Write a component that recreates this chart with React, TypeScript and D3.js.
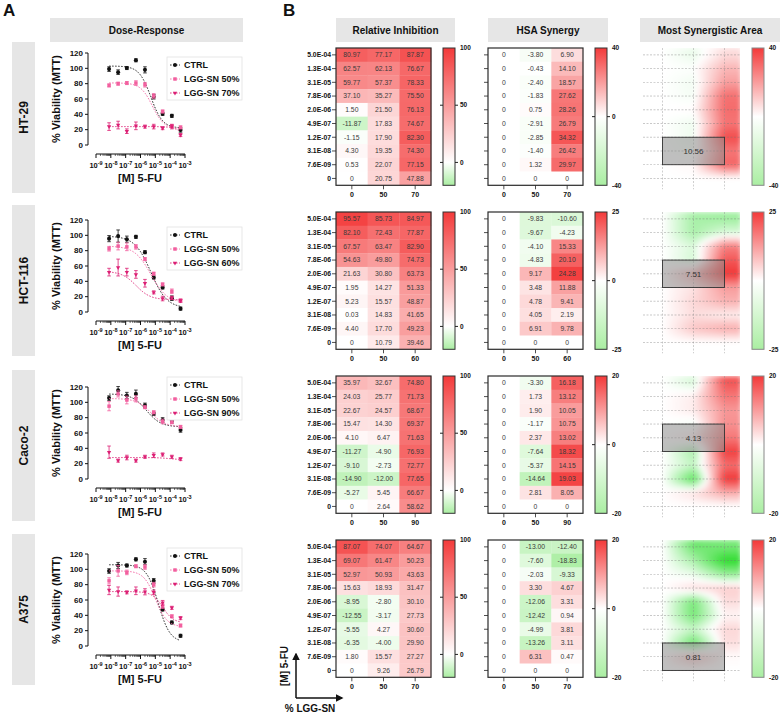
import React from "react";
import * as d3 from "d3";

const FONT = "'Liberation Sans', Arial, Helvetica, sans-serif";

// ---------------- DATA ----------------
const CELL_LINES = ["HT-29", "HCT-116", "Caco-2", "A375"];
const FU_LABELS = ["5.0E-04", "1.3E-04", "3.1E-05", "7.8E-06", "2.0E-06", "4.9E-07", "1.2E-07", "3.1E-08", "7.6E-09", "0"];
const FU_CONC = [7.6e-9, 3.1e-8, 1.2e-7, 4.9e-7, 2.0e-6, 7.8e-6, 3.1e-5, 1.3e-4, 5.0e-4];
const LGG_DOSES = [["0", "50", "70"], ["0", "50", "60"], ["0", "50", "90"], ["0", "50", "70"]];
const SERIES_LABELS = [
  ["CTRL", "LGG-SN 50%", "LGG-SN 70%"],
  ["CTRL", "LGG-SN 50%", "LGG-SN 60%"],
  ["CTRL", "LGG-SN 50%", "LGG-SN 90%"],
  ["CTRL", "LGG-SN 50%", "LGG-SN 70%"],
];
const X_TICK_EXP = [-9, -8, -7, -6, -5, -4, -3];
const Y_TICKS = [0, 20, 40, 60, 80, 100, 120];

// dose-response means
const DR_HT29 = [
  [99, 95, 100.4, 110.5, 98, 63, 40.6, 38, 19.7],
  [77.7, 80, 80.8, 80.8, 78.6, 64, 43.7, 24.5, 23],
  [24, 26, 18, 25, 24, 24, 22, 24, 13],
];
const DR_HCT116 = [
  [95.7, 99, 95, 98, 78, 45, 32, 18, 4.4],
  [82.5, 86, 85, 85, 69, 50, 36, 27, 15],
  [52, 58, 52, 49, 37.5, 25.6, 17.6, 18.5, 14.6],
];
const DR_CACO2 = [
  [105.5, 115.6, 109, 111, 96, 85, 77, 76, 64],
  [95, 111, 103, 104.6, 93.6, 87, 75, 74, 68],
  [35, 24, 28, 24, 29, 31, 32, 29, 26],
];
const DR_A375 = [
  [97.8, 105, 105, 113, 110, 85, 47.6, 30.7, 13.3],
  [85, 98, 96, 104, 103, 80, 52, 38.7, 26.7],
  [73, 71, 70, 72, 70.7, 70, 56.4, 49.8, 36.4],
];
// error bars (SEM)
const ERR_HT29 = [[3, 3, 2, 2, 4, 3, 2, 2, 3], [2, 2, 2, 3, 3, 3, 2, 2, 2], [5, 5, 3, 5, 2, 3, 2, 3, 2]];
const ERR_HCT116 = [[4, 8, 4, 2, 2, 2, 2, 3, 2], [3, 5, 5, 3, 2, 2, 2, 3, 2], [5, 11, 5, 5, 5, 2, 3, 2, 2]];
const ERR_CACO2 = [[3, 5, 4, 5, 3, 2, 3, 3, 3], [6, 4, 5, 4, 2, 2, 3, 2, 2], [8, 2, 3, 2, 2, 3, 2, 2, 2]];
const ERR_A375 = [[3, 4, 2, 2, 4, 3, 2, 2, 2], [4, 7, 3, 2, 3, 3, 3, 2, 2], [6, 6, 2, 5, 4, 3, 3, 2, 2]];
// 4PL fits: [top, bottom, logIC50, hill]
const FIT_HT29 = [[103, 22, -5.3, 1.1], [81, 21, -5.2, 1.1], [24, 14, -3.4, 1.5]];
const FIT_HCT116 = [[99, 5, -5.3, 0.8], [86, 12, -5.3, 0.8], [53, 16, -6.3, 0.9]];
const FIT_CACO2 = [[111, 68, -5.6, 0.9], [105, 68, -5.3, 0.9], [28, 25, -4, 1]];
const FIT_A375 = [[106, 5, -4.8, 1.1], [98, 25, -5.0, 1.1], [71, 30, -4.5, 1.2]];

const DR_DATA = [DR_HT29, DR_HCT116, DR_CACO2, DR_A375];
const DR_ERR = [ERR_HT29, ERR_HCT116, ERR_CACO2, ERR_A375];
const DR_FIT = [FIT_HT29, FIT_HCT116, FIT_CACO2, FIT_A375];

// relative inhibition (rows: 5.0E-04 ... 0 ; cols: LGG doses)
const RI_HT29 = [[80.97, 77.17, 87.87], [62.57, 62.13, 76.67], [59.77, 57.37, 78.33], [37.10, 35.27, 75.50], [1.50, 21.50, 76.13], [-11.87, 17.83, 74.67], [-1.15, 17.90, 82.30], [4.30, 19.35, 74.30], [0.53, 22.07, 77.15], [0, 20.75, 47.88]];
const RI_HCT116 = [[95.57, 85.73, 84.97], [82.10, 72.43, 77.87], [67.57, 63.47, 82.90], [54.63, 49.80, 74.73], [21.63, 30.80, 63.73], [1.95, 14.27, 51.33], [5.23, 15.57, 48.87], [0.03, 14.83, 41.65], [4.40, 17.70, 49.23], [0, 10.79, 39.46]];
const RI_CACO2 = [[35.97, 32.67, 74.80], [24.03, 25.77, 71.73], [22.67, 24.57, 68.67], [15.47, 14.30, 69.37], [4.10, 6.47, 71.63], [-11.27, -4.90, 76.93], [-9.10, -2.73, 72.77], [-14.90, -12.00, 77.65], [-5.27, 5.45, 66.67], [0, 2.64, 58.62]];
const RI_A375 = [[87.07, 74.07, 64.67], [69.07, 61.47, 50.23], [52.97, 50.93, 43.63], [15.63, 18.93, 31.47], [-8.95, -2.80, 30.10], [-12.55, -3.17, 27.73], [-5.55, 4.27, 30.60], [-6.35, -4.00, 29.90], [1.80, 15.57, 27.27], [0, 9.26, 26.79]];
// HSA synergy
const HSA_HT29 = [[0, -3.80, 6.90], [0, -0.43, 14.10], [0, -2.40, 18.57], [0, -1.83, 27.62], [0, 0.75, 28.26], [0, -2.91, 26.79], [0, -2.85, 34.32], [0, -1.40, 26.42], [0, 1.32, 29.97], [0, 0, 0]];
const HSA_HCT116 = [[0, -9.83, -10.60], [0, -9.67, -4.23], [0, -4.10, 15.33], [0, -4.83, 20.10], [0, 9.17, 24.28], [0, 3.48, 11.88], [0, 4.78, 9.41], [0, 4.05, 2.19], [0, 6.91, 9.78], [0, 0, 0]];
const HSA_CACO2 = [[0, -3.30, 16.18], [0, 1.73, 13.12], [0, 1.90, 10.05], [0, -1.17, 10.75], [0, 2.37, 13.02], [0, -7.64, 18.32], [0, -5.37, 14.15], [0, -14.64, 19.03], [0, 2.81, 8.05], [0, 0, 0]];
const HSA_A375 = [[0, -13.00, -12.40], [0, -7.60, -18.83], [0, -2.03, -9.33], [0, 3.30, 4.67], [0, -12.06, 3.31], [0, -12.42, 0.94], [0, -4.99, 3.81], [0, -13.26, 3.11], [0, 6.31, 0.47], [0, 0, 0]];
const RI_DATA = [RI_HT29, RI_HCT116, RI_CACO2, RI_A375];
const HSA_DATA = [HSA_HT29, HSA_HCT116, HSA_CACO2, HSA_A375];
const HSA_RANGE = [40, 25, 20, 20];
const RI_TICKS = [100, 50, 0];
const MSA_VALUES = [10.56, 7.51, 4.13, 0.81];
const MSA_ROW_START = [6, 3, 3, 7];

// ---------------- LAYOUT ----------------
const W = 784, H = 715;
const LABEL_BOX_TOP = [42, 205, 370, 534];
const LABEL_BOX_H = 151;
const DR_ZERO_Y = [145, 312, 479, 646];
const DR_LEGEND_OFF = [-88, -85, -102, -98];
const HEAT_TOP = [48, 212, 376, 540];
const HEAT_H = 137.3;
const RI_X = 336, HSA_X = 488, HEAT_W = 95;
const RI_CB_X = 443, HSA_CB_X = 595, MSA_CB_X = 752;
const MSA_X = 647, MSA_W = 93;
const SERIES_COLORS = ["#111111", "#f2609f", "#dc1f74"];
const SYMBOLS = [d3.symbolCircle, d3.symbolSquare, d3.symbolTriangle];
const SYMBOL_SIZES = [13, 12, 8];

const GREEN = "#aaeea2", WHITE = "#ffffff", RED = "#f33a3a";

const fourPL = (x: number, p: number[]) => p[1] + (p[0] - p[1]) / (1 + Math.pow(10, (x - p[2]) * p[3]));
const fmt = (v: number) => (v === 0 ? "0" : v.toFixed(2));

function Header({ x, w, label }: { x: number; w: number; label: string }) {
  return (
    <g>
      <rect x={x} y={18} width={w} height={24} fill="#e6e6e6" />
      <text x={x + w / 2} y={34} textAnchor="middle" fontSize={10} fontWeight="bold" fill="#111">{label}</text>
    </g>
  );
}

function DosePanel({ i }: { i: number }) {
  const zeroY = DR_ZERO_Y[i];
  const y = d3.scaleLinear().domain([0, 120]).range([zeroY, zeroY - 92]);
  const x = d3.scaleLinear().domain([-9, -3]).range([96, 185]);
  const axisY = zeroY + 9;
  const minor: number[] = [];
  for (let d = -9; d < -3; d++) for (let k = 2; k <= 9; k++) minor.push(d + Math.log10(k));
  const xs = d3.range(Math.log10(FU_CONC[0]), Math.log10(FU_CONC[8]) + 0.01, 0.04);
  const legTop = zeroY + DR_LEGEND_OFF[i];
  return (
    <g>
      <rect x={12} y={LABEL_BOX_TOP[i]} width={23} height={LABEL_BOX_H} fill="#e6e6e6" />
      <text transform={`translate(28,${LABEL_BOX_TOP[i] + LABEL_BOX_H / 2}) rotate(-90)`} textAnchor="middle" fontSize={12} fontWeight="bold" fill="#111">{CELL_LINES[i]}</text>
      {/* y axis */}
      <line x1={88} x2={88} y1={y(0)} y2={y(120)} stroke="#111" strokeWidth={1} />
      {Y_TICKS.map((t) => (
        <g key={t}>
          <line x1={85} x2={88} y1={y(t)} y2={y(t)} stroke="#111" />
          <text x={83} y={y(t)} dy="0.35em" textAnchor="end" fontSize={8} fontWeight="bold" fill="#111">{t}</text>
        </g>
      ))}
      <text transform={`translate(60,${zeroY - 46}) rotate(-90)`} textAnchor="middle" fontSize={11} fontWeight="bold" fill="#111">% Viability (MTT)</text>
      {/* x axis */}
      <line x1={x(-9)} x2={x(-3)} y1={axisY} y2={axisY} stroke="#111" />
      {X_TICK_EXP.map((e) => (
        <g key={e}>
          <line x1={x(e)} x2={x(e)} y1={axisY} y2={axisY + 4} stroke="#111" />
          <text x={x(e)} y={axisY + 14} textAnchor="middle" fontSize={7.5} fontWeight="bold" fill="#111">
            10<tspan dy={-3.5} fontSize={5.5}>{String(e)}</tspan>
          </text>
        </g>
      ))}
      {minor.map((m, k) => (
        <line key={k} x1={x(m)} x2={x(m)} y1={axisY} y2={axisY + 2} stroke="#111" strokeWidth={0.6} />
      ))}
      <text x={140} y={zeroY + 37} textAnchor="middle" fontSize={11} fontWeight="bold" fill="#111">[M] 5-FU</text>
      {/* curves & points */}
      {DR_DATA[i].map((series, s) => {
        const path = d3.line<number>().x((d) => x(d)).y((d) => y(fourPL(d, DR_FIT[i][s])))(xs) || "";
        const sym = d3.symbol().type(SYMBOLS[s]).size(SYMBOL_SIZES[s])() || "";
        return (
          <g key={s}>
            <path d={path} fill="none" stroke={SERIES_COLORS[s]} strokeWidth={0.9} strokeDasharray="1.6,1.4" />
            {series.map((v, j) => {
              const cx = x(Math.log10(FU_CONC[j]));
              const e = DR_ERR[i][s][j];
              return (
                <g key={j}>
                  <line x1={cx} x2={cx} y1={y(v - e)} y2={y(v + e)} stroke={SERIES_COLORS[s]} strokeWidth={0.8} />
                  <line x1={cx - 1.8} x2={cx + 1.8} y1={y(v - e)} y2={y(v - e)} stroke={SERIES_COLORS[s]} strokeWidth={0.8} />
                  <line x1={cx - 1.8} x2={cx + 1.8} y1={y(v + e)} y2={y(v + e)} stroke={SERIES_COLORS[s]} strokeWidth={0.8} />
                  <path d={sym} transform={`translate(${cx},${y(v)})${s === 2 ? " rotate(180)" : ""}`} fill={SERIES_COLORS[s]} />
                </g>
              );
            })}
          </g>
        );
      })}
      {/* legend */}
      <rect x={167} y={legTop} width={75} height={43} fill="#fff" stroke="#e2e2e2" strokeWidth={0.8} />
      {SERIES_LABELS[i].map((lab, s) => {
        const ly = legTop + 8 + s * 14;
        const sym = d3.symbol().type(SYMBOLS[s]).size(SYMBOL_SIZES[s])() || "";
        return (
          <g key={s}>
            <line x1={170} x2={180} y1={ly} y2={ly} stroke={SERIES_COLORS[s]} strokeWidth={0.8} strokeDasharray="1.6,1.4" />
            <path d={sym} transform={`translate(175,${ly})${s === 2 ? " rotate(180)" : ""}`} fill={SERIES_COLORS[s]} />
            <text x={184} y={ly + 3.2} fontSize={9} fontWeight="bold" fill="#111">{lab}</text>
          </g>
        );
      })}
    </g>
  );
}

function ColorBar({ x, top, min, max, ticks, id, stroke }: { x: number; top: number; min: number; max: number; ticks: number[]; id: string; stroke: string }) {
  const y = d3.scaleLinear().domain([max, min]).range([top, top + HEAT_H]);
  const zeroOff = (max - 0) / (max - min);
  const w = 12;
  return (
    <g>
      <defs>
        <linearGradient id={id} x1="0" y1="0" x2="0" y2="1">
          <stop offset="0" stopColor={RED} />
          <stop offset={zeroOff} stopColor={WHITE} />
          <stop offset="1" stopColor={GREEN} />
        </linearGradient>
      </defs>
      <rect x={x} y={top} width={w} height={HEAT_H} fill={`url(#${id})`} stroke={stroke} strokeWidth={1} />
      {ticks.map((t) => (
        <g key={t}>
          {t !== max && t !== min && (
            <>
              <line x1={x - 3} x2={x} y1={y(t)} y2={y(t)} stroke="#222" />
              <line x1={x + w} x2={x + w + 3} y1={y(t)} y2={y(t)} stroke="#222" />
            </>
          )}
          <text x={x + w + 5} y={y(t)} dy="0.35em" fontSize={6.5} fontWeight="bold" fill="#111">{t}</text>
        </g>
      ))}
    </g>
  );
}

function HeatMap({ i, x, data, color, showLabels }: { i: number; x: number; data: number[][]; color: (v: number) => string; showLabels: boolean }) {
  const top = HEAT_TOP[i];
  const xb = d3.scaleBand().domain(LGG_DOSES[i]).range([x, x + HEAT_W]);
  const yb = d3.scaleBand().domain(FU_LABELS).range([top, top + HEAT_H]);
  return (
    <g>
      {data.map((row, r) =>
        row.map((v, c) => (
          <g key={`${r}-${c}`}>
            <rect x={xb(LGG_DOSES[i][c])} y={yb(FU_LABELS[r])} width={xb.bandwidth() + 0.3} height={yb.bandwidth() + 0.3} fill={color(v)} />
            <text x={(xb(LGG_DOSES[i][c]) as number) + xb.bandwidth() / 2} y={(yb(FU_LABELS[r]) as number) + yb.bandwidth() / 2} dy="0.35em" textAnchor="middle" fontSize={6.8} fill="#3a3a3a">{fmt(v)}</text>
          </g>
        ))
      )}
      <rect x={x} y={top} width={HEAT_W} height={HEAT_H} fill="none" stroke="#2a2a2a" strokeWidth={1.2} />
      {FU_LABELS.map((l) => {
        const yy = (yb(l) as number) + yb.bandwidth() / 2;
        return (
          <g key={l}>
            <line x1={x - 4} x2={x} y1={yy} y2={yy} stroke="#222" strokeWidth={0.8} />
            {showLabels && <text x={x - 5} y={yy} dy="0.35em" textAnchor="end" fontSize={6.8} fontWeight="bold" fill="#111">{l}</text>}
          </g>
        );
      })}
      {LGG_DOSES[i].map((d) => {
        const xx = (xb(d) as number) + xb.bandwidth() / 2;
        return (
          <g key={d}>
            <line x1={xx} x2={xx} y1={top + HEAT_H} y2={top + HEAT_H + 4} stroke="#222" strokeWidth={0.8} />
            <text x={xx} y={top + HEAT_H + 12} textAnchor="middle" fontSize={7} fontWeight="bold" fill="#111">{d}</text>
          </g>
        );
      })}
    </g>
  );
}

function MSA({ i }: { i: number }) {
  const top = HEAT_TOP[i];
  const data = HSA_DATA[i];
  const r = HSA_RANGE[i];
  const color = d3.scaleLinear<string>().domain([-r, 0, r]).range(["#22da22", WHITE, "#f03030"]).clamp(true);
  const nC = 3, nR = 10;
  const colW = MSA_W / nC, rowH = HEAT_H / nR;
  const cx = d3.scaleLinear().domain([0, nC - 1]).range([MSA_X + colW / 2, MSA_X + MSA_W - colW / 2]);
  const cy = d3.scaleLinear().domain([0, nR - 1]).range([top + rowH / 2, top + HEAT_H - rowH / 2]);
  const step = 2;
  const cells: JSX.Element[] = [];
  for (let py = 0; py < HEAT_H; py += step) {
    for (let px = 0; px < MSA_W; px += step) {
      const c = Math.max(0, Math.min(nC - 1, cx.invert(MSA_X + px + step / 2)));
      const rr = Math.max(0, Math.min(nR - 1, cy.invert(top + py + step / 2)));
      const c0 = Math.min(Math.floor(c), nC - 2), r0 = Math.min(Math.floor(rr), nR - 2);
      const fc = c - c0, fr = rr - r0;
      const v =
        data[r0][c0] * (1 - fc) * (1 - fr) + data[r0][c0 + 1] * fc * (1 - fr) +
        data[r0 + 1][c0] * (1 - fc) * fr + data[r0 + 1][c0 + 1] * fc * fr;
      cells.push(<rect key={`${px}-${py}`} x={MSA_X + px} y={top + py} width={step + 0.4} height={step + 0.4} fill={color(v)} />);
    }
  }
  const r0 = MSA_ROW_START[i];
  return (
    <g>
      <defs>
        <clipPath id={`msaclip${i}`}>
          <rect x={MSA_X} y={top} width={MSA_W} height={HEAT_H} />
        </clipPath>
        <filter id={`msablur${i}`} x="-5%" y="-5%" width="110%" height="110%">
          <feGaussianBlur stdDeviation={2.5} edgeMode="duplicate" />
        </filter>
      </defs>
      <g clipPath={`url(#msaclip${i})`}>
        <g shapeRendering="crispEdges" filter={`url(#msablur${i})`}>{cells}</g>
      </g>
      {d3.range(nR).map((k) => (
        <line key={k} x1={MSA_X - 4} x2={MSA_X + MSA_W} y1={cy(k)} y2={cy(k)} stroke="#777" strokeWidth={0.5} strokeDasharray="2,1.5" opacity={0.8} />
      ))}
      {d3.range(nC).map((k) => (
        <line key={k} x1={cx(k)} x2={cx(k)} y1={top} y2={top + HEAT_H + 4} stroke="#888" strokeWidth={0.5} strokeDasharray="2,1.5" opacity={0.8} />
      ))}
      <rect x={cx(0)} y={cy(r0)} width={cx(2) - cx(0)} height={cy(r0 + 2) - cy(r0)} fill="#8a8a8a" fillOpacity={0.55} stroke="#333" strokeWidth={0.9} />
      <text x={cx(1)} y={(cy(r0) + cy(r0 + 2)) / 2} dy="0.35em" textAnchor="middle" fontSize={8} fill="#333">{MSA_VALUES[i].toFixed(2)}</text>
    </g>
  );
}

export default function App() {
  const riColor = d3.scaleLinear<string>().domain([-20, 0, 100]).range([GREEN, WHITE, RED]).clamp(true);
  return (
    <svg width={W} height={H} style={{ position: "absolute", left: 0, top: 0, background: "#fff" }} fontFamily={FONT}>
      <defs>
        <marker id="arrow" viewBox="0 0 10 10" refX={8} refY={5} markerWidth={5} markerHeight={5} orient="auto-start-reverse">
          <path d="M0,0 L10,5 L0,10 z" fill="#111" />
        </marker>
      </defs>
      <text x={3} y={16} fontSize={17} fontWeight="bold" fill="#111">A</text>
      <text x={283} y={16} fontSize={17} fontWeight="bold" fill="#111">B</text>
      <Header x={50} w={193} label="Dose-Response" />
      <Header x={RI_X} w={119} label="Relative Inhibition" />
      <Header x={HSA_X} w={120} label="HSA Synergy" />
      <Header x={640} w={140} label="Most Synergistic Area" />
      {CELL_LINES.map((_, i) => {
        const r = HSA_RANGE[i];
        const hsaColor = d3.scaleLinear<string>().domain([-r, 0, r]).range([GREEN, WHITE, RED]).clamp(true);
        return (
          <g key={i}>
            <DosePanel i={i} />
            <HeatMap i={i} x={RI_X} data={RI_DATA[i]} color={riColor} showLabels={true} />
            <ColorBar x={RI_CB_X} top={HEAT_TOP[i]} min={-20} max={100} ticks={RI_TICKS} id={`cbri${i}`} stroke="#333" />
            <HeatMap i={i} x={HSA_X} data={HSA_DATA[i]} color={hsaColor} showLabels={false} />
            <ColorBar x={HSA_CB_X} top={HEAT_TOP[i]} min={-r} max={r} ticks={[r, 0, -r]} id={`cbhsa${i}`} stroke="#333" />
            <MSA i={i} />
            <ColorBar x={MSA_CB_X} top={HEAT_TOP[i]} min={-r} max={r} ticks={[r, -r]} id={`cbmsa${i}`} stroke="#888" />
          </g>
        );
      })}
      {/* axis indicator */}
      <text transform="translate(288,666) rotate(-90)" textAnchor="middle" fontSize={10} fontWeight="bold" fill="#111">[M] 5-FU</text>
      <line x1={296} y1={698} x2={296} y2={654} stroke="#111" strokeWidth={1.5} markerEnd="url(#arrow)" />
      <line x1={296} y1={698} x2={342} y2={698} stroke="#111" strokeWidth={1.5} markerEnd="url(#arrow)" />
      <text x={310} y={712} textAnchor="middle" fontSize={10} fontWeight="bold" fill="#111">% LGG-SN</text>
    </svg>
  );
}
